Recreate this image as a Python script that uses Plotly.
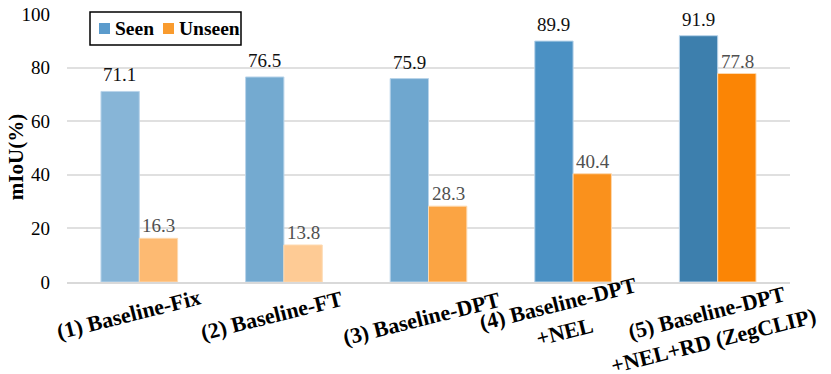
import plotly.graph_objects as go

categories = ["(1) Baseline-Fix", "(2) Baseline-FT", "(3) Baseline-DPT",
              "(4) Baseline-DPT<br>+NEL", "(5) Baseline-DPT<br>+NEL+RD (ZegCLIP)"]
seen = [71.1, 76.5, 75.9, 89.9, 91.9]
unseen = [16.3, 13.8, 28.3, 40.4, 77.8]
seen_colors = ["#87b5d7", "#74aad0", "#6fa7cf", "#4b91c4", "#3d7fad"]
unseen_colors = ["#fdba72", "#fecb95", "#fba443", "#fa911c", "#fb8505"]
series_names = ["Seen", "Unseen"]
legend_colors = ["#5b9bcc", "#f99b2e"]
y_ticks = [0, 20, 40, 60, 80, 100]

FONT = "Liberation Serif, Times New Roman, serif"
fig = go.Figure()
fig.add_trace(go.Bar(x=categories, y=seen, name=series_names[0],
                     marker=dict(color=seen_colors, line=dict(color="#b9d4ea", width=1)), showlegend=False))
fig.add_trace(go.Bar(x=categories, y=unseen, name=series_names[1],
                     marker=dict(color=unseen_colors, line=dict(color="#fdd9b0", width=1)), showlegend=False))

ann = []
for c, v in zip(categories, seen):
    ann.append(dict(x=c, y=v, xref="x", yref="y", text=f"{v:.1f}", showarrow=False, xshift=-19.5,
                    yanchor="bottom", yshift=4, font=dict(family=FONT, size=19, color="#111111")))
for c, v in zip(categories, unseen):
    ann.append(dict(x=c, y=v, xref="x", yref="y", text=f"{v:.1f}", showarrow=False, xshift=19.5,
                    yanchor="bottom", yshift=0, font=dict(family=FONT, size=19, color="#505050")))
ycent = [314, 315, 318, 318, 327]
xsh = [-11, -12, -7, -12, -8]
for c, yc, xs in zip(categories, ycent, xsh):
    ann.append(dict(x=c, xref="x", y=(282 - yc) / 268, yref="paper", text=c, showarrow=False,
                    textangle=-14, xanchor="center", yanchor="middle", xshift=xs, align="center",
                    font=dict(family=FONT, size=22, color="black", weight="bold")))
ann.append(dict(x=-0.0705, xref="paper", y=0.466, yref="paper", text="mIoU(%)", textangle=-90,
                showarrow=False, xanchor="center", yanchor="middle",
                font=dict(family=FONT, size=21, color="black", weight="bold")))

# legend box (top-left, inside plot)
px = lambda p: (p - 67) / 723
py = lambda p: (282 - p) / 268
shapes = [dict(type="rect", xref="paper", yref="paper", x0=px(90), x1=px(241), y0=py(45), y1=py(12),
               line=dict(color="black", width=1.5), fillcolor="white", layer="above")]
sq_x = [99, 163]
tx_x = [113, 177]
for name, col, sx, tx in zip(series_names, legend_colors, sq_x, tx_x):
    shapes.append(dict(type="rect", xref="paper", yref="paper", x0=px(sx), x1=px(sx + 11),
                       y0=py(34), y1=py(23), line=dict(width=0), fillcolor=col, layer="above"))
    ann.append(dict(x=px(tx), xref="paper", y=py(28.5), yref="paper", text=name, showarrow=False,
                    xanchor="left", yanchor="middle",
                    font=dict(family=FONT, size=19.5, color="black", weight="bold")))

fig.update_layout(
    width=831, height=374, barmode="group", bargap=0.47, bargroupgap=0,
    margin=dict(l=67, r=41, t=14, b=92, autoexpand=False),
    plot_bgcolor="white", paper_bgcolor="white",
    font=dict(family=FONT, size=19, color="black"),
    annotations=ann, shapes=shapes, showlegend=False,
    xaxis=dict(range=[-0.5, 4.5], showticklabels=False, showline=True, linecolor="#d9d9d9", linewidth=1.5,
               ticks="", automargin=False),
    yaxis=dict(range=[0, 100], tickvals=y_ticks, showgrid=True, gridcolor="#e0e0e0", gridwidth=1.5,
               zeroline=False, ticks="", ticklabelstandoff=16, automargin=False,
               tickfont=dict(family=FONT, size=19, color="black")),
)
fig.write_html("out.html", config={"displayModeBar": False},
               post_script="document.body.style.margin='0';document.body.style.overflow='hidden';")
